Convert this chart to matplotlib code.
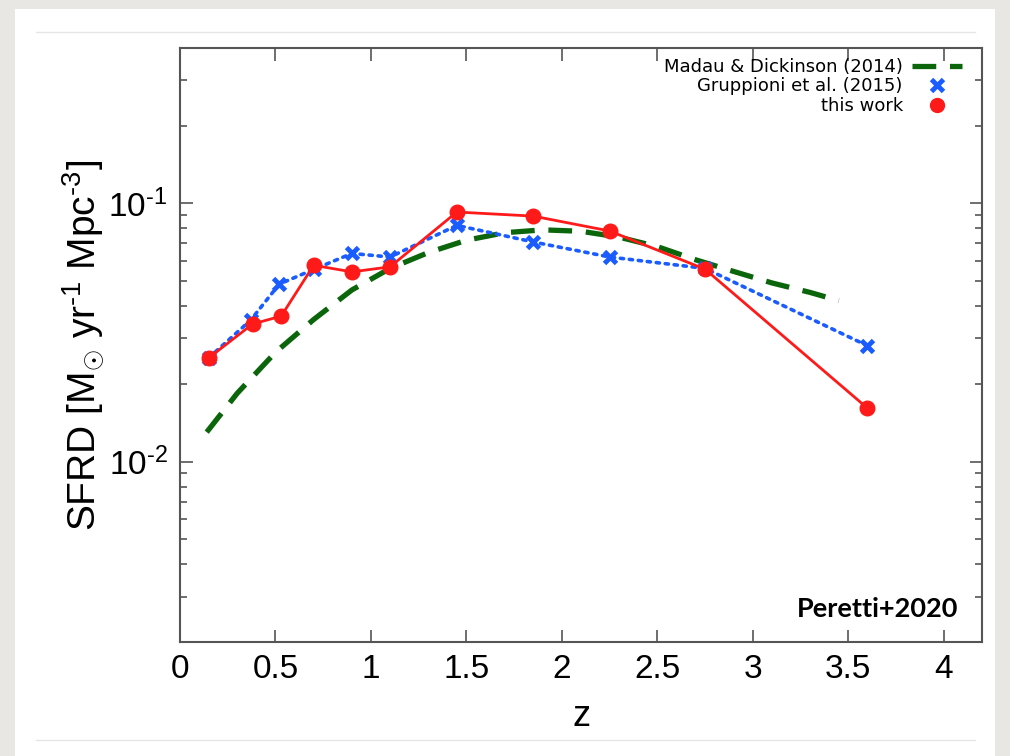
import matplotlib
matplotlib.use('Agg')
import matplotlib.pyplot as plt
from matplotlib.lines import Line2D
from matplotlib.patches import Rectangle

# Madau & Dickinson (2014)
md_z = [0.14, 0.3, 0.5, 0.7, 0.9, 1.1, 1.3, 1.5, 1.7, 1.9, 2.1, 2.3, 2.5, 2.7, 2.9, 3.1, 3.3, 3.45]
md_sfrd = [0.0130, 0.0184, 0.0265, 0.0355, 0.0462, 0.0560, 0.0645, 0.0720, 0.0770, 0.0790,
           0.0780, 0.0740, 0.0680, 0.0605, 0.0545, 0.0492, 0.0452, 0.0420]

# Gruppioni et al. (2015)
gr_z = [0.15, 0.37, 0.52, 0.7, 0.9, 1.1, 1.45, 1.85, 2.25, 2.75, 3.6]
gr_sfrd = [0.0252, 0.0353, 0.0487, 0.0555, 0.0640, 0.0620, 0.0822, 0.0709, 0.0620, 0.0560, 0.0281]

# this work
tw_z = [0.15, 0.38, 0.53, 0.7, 0.9, 1.1, 1.45, 1.85, 2.25, 2.75, 3.6]
tw_sfrd = [0.0252, 0.0341, 0.0366, 0.0576, 0.0543, 0.0568, 0.0926, 0.0893, 0.0782, 0.0556, 0.0161]

xticks = [0, 0.5, 1, 1.5, 2, 2.5, 3, 3.5, 4]
xticklabels = ['0', '0.5', '1', '1.5', '2', '2.5', '3', '3.5', '4']
yticks = [0.01, 0.1]
yticklabels = ['10$^{\\text{-2}}$', '10$^{\\text{-1}}$']

plt.rcParams['mathtext.fontset'] = 'custom'
plt.rcParams['mathtext.rm'] = 'Liberation Sans'
plt.rcParams['mathtext.it'] = 'Liberation Sans:italic'
plt.rcParams['mathtext.sf'] = 'Liberation Sans'

fig = plt.figure(figsize=(10.1, 7.56), dpi=100, facecolor='#e9e7e3')

# slide card behind the plot
fig.patches.append(Rectangle((0.015, 0.0), 0.97, 0.988, transform=fig.transFigure,
                             facecolor='white', edgecolor='none', zorder=-10))
fig.lines.append(Line2D([0.036, 0.965], [1 - 32 / 756, 1 - 32 / 756], transform=fig.transFigure,
                        color='#e6e6e6', lw=1, zorder=-5))
fig.lines.append(Line2D([0.036, 0.965], [1 - 740 / 756, 1 - 740 / 756], transform=fig.transFigure,
                        color='#e6e6e6', lw=1, zorder=-5))

ax = fig.add_axes([180 / 1010, 114 / 756, 802 / 1010, 594 / 756])

ax.plot(md_z, md_sfrd, color='#0b650b', lw=3.8, linestyle=(0, (4.5, 2.6)), zorder=2)
ax.plot(gr_z, gr_sfrd, color='#1a5cff', lw=2.6, linestyle=(0, (0.9, 1.6)),
        dash_capstyle='round', marker='x', ms=8, mew=3.5, zorder=3)
ax.plot(tw_z, tw_sfrd, color='#ff1a1a', lw=2, marker='o', ms=10.5, zorder=4)

ax.set_yscale('log')
ax.set_xlim(0, 4.2)
ax.set_ylim(0.002, 0.4)
ax.set_xticks(xticks)
ax.set_xticklabels(xticklabels)
ax.set_yticks(yticks)
ax.set_yticklabels(yticklabels)

for s in ax.spines.values():
    s.set_color('#555555')
    s.set_linewidth(1.5)

ax.tick_params(which='both', direction='in', top=True, right=True, color='#555555', width=1.2)
ax.tick_params(which='major', length=9, labelsize=24, pad=9)
ax.tick_params(which='minor', length=5)
for lab in ax.get_xticklabels() + ax.get_yticklabels():
    lab.set_family('Liberation Sans')

ax.set_xlabel('z', fontsize=26, family='Liberation Sans', labelpad=10)
ax.set_ylabel('SFRD [M$_{\\odot}$ yr$^{\\text{-1}}$ Mpc$^{\\text{-3}}$]', fontsize=28,
              family='Liberation Sans', labelpad=2)

handles = [
    Line2D([], [], color='#0b650b', lw=3.8, linestyle=(0, (4.5, 2.6))),
    Line2D([], [], color='#1a5cff', linestyle='none', marker='x', ms=8, mew=3.5),
    Line2D([], [], color='#ff1a1a', linestyle='none', marker='o', ms=10),
]
labels = ['Madau & Dickinson (2014)', 'Gruppioni et al. (2015)', 'this work']
ax.legend(handles, labels, loc='upper right', bbox_to_anchor=(0.988, 1.0), frameon=False,
          markerfirst=False, fontsize=13, handlelength=2.8, handletextpad=0.5,
          labelspacing=0.08, borderaxespad=0.15)

ax.text(0.97, 0.055, 'Peretti+2020', transform=ax.transAxes, ha='right', va='center',
        fontsize=19.5, fontweight='bold', family='Lato')

fig.savefig('out.png', dpi=100, facecolor=fig.get_facecolor())
